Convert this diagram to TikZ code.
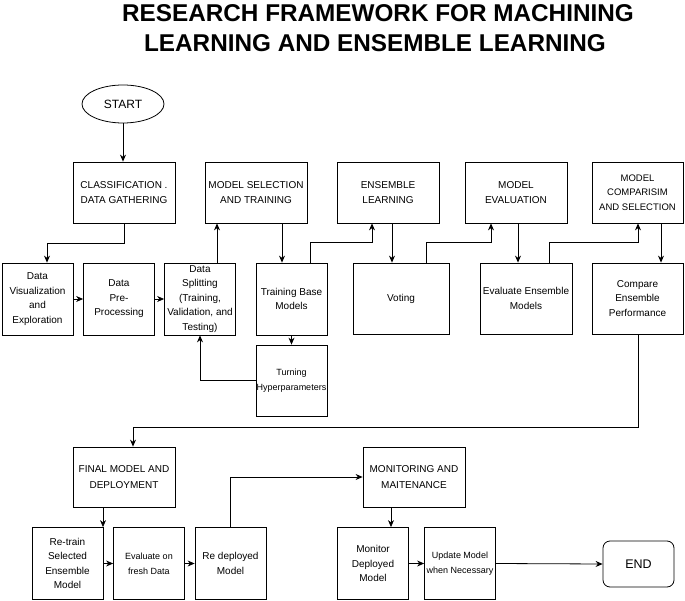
\documentclass[tikz,border=0pt]{standalone}
\usepackage{fontspec}
\setmainfont{Liberation Sans}
\usetikzlibrary{arrows.meta,shapes.geometric,calc}
\begin{document}
\begin{tikzpicture}[x=1pt,y=-1pt,
  line width=0.8pt,
  >={Stealth[length=7pt,width=6pt]},
  box/.style={draw,rectangle,inner sep=0pt,align=center,font=\fontsize{10}{14.5}\selectfont},
  capbox/.style={box,font=\fontsize{10}{15.5}\selectfont},
  smallbox/.style={box,font=\fontsize{9}{15}\selectfont},
  titletext/.style={font=\bfseries\fontsize{24.3}{32}\selectfont,anchor=base},
  wide/.style={minimum width=102pt,minimum height=61pt},
  sq/.style={minimum width=71pt,minimum height=72pt},
  conn/.style={->}
]
\useasboundingbox (0,0) rectangle (685,601);
% title
\node[titletext] (title1) at (378,21.5) {RESEARCH FRAMEWORK FOR MACHINING};
\node[titletext] (title2) at (375,51.5) {LEARNING AND ENSEMBLE LEARNING};
% start
\node[draw,ellipse,minimum width=82pt,minimum height=38pt,inner sep=0pt,font=\fontsize{12}{14}\selectfont] (start) at (123,104) {START};
% top row
\node[capbox,wide] (cls) at (124,192.5) {CLASSIFICATION .\\DATA GATHERING};
\node[capbox,wide] (msel) at (256,192.5) {MODEL SELECTION\\AND TRAINING};
\node[capbox,wide] (ens) at (388,192.5) {ENSEMBLE\\LEARNING};
\node[capbox,wide] (meval) at (516,192.5) {MODEL\\EVALUATION};
\node[capbox,minimum width=91pt,minimum height=61pt,font=\fontsize{9.5}{14.5}\selectfont] (mcomp) at (637.5,192.5) {MODEL\\COMPARISIM\\AND SELECTION};
% second row
\node[box,sq] (dvis) at (37.5,299) {Data\\Visualization\\and\\Exploration};
\node[box,sq] (prep) at (119,299) {Data\\Pre-\\Processing};
\node[box,sq] (split) at (200,299) {Data\\Splitting\\(Training,\\Validation, and\\Testing)};
\node[box,sq] (train) at (291.5,299) {Training Base\\Models};
\node[box,minimum width=96pt,minimum height=71pt] (vote) at (401,298.5) {Voting};
\node[box,minimum width=92pt,minimum height=71pt] (evens) at (526,298.5) {Evaluate Ensemble\\Models};
\node[box,minimum width=91pt,minimum height=71pt] (comp) at (637.5,298.5) {Compare\\Ensemble\\Performance};
\node[smallbox,minimum width=71pt,minimum height=71pt] (tune) at (291.5,380.5) {Turning\\Hyperparameters};
% bottom
\node[capbox,minimum width=102pt,minimum height=60pt] (final) at (124,477) {FINAL MODEL AND\\DEPLOYMENT};
\node[box,sq] (retrain) at (67.5,563.5) {Re-train\\Selected\\Ensemble\\Model};
\node[smallbox,sq] (evfresh) at (149,563.5) {Evaluate on\\fresh Data};
\node[box,sq] (redep) at (230.5,563.5) {Re deployed\\Model};
\node[capbox,minimum width=102pt,minimum height=60pt] (mon) at (414,477) {MONITORING AND\\MAITENANCE};
\node[box,sq] (mdep) at (373,563.5) {Monitor\\Deployed\\Model};
\node[smallbox,sq] (upd) at (460,563.5) {Update Model\\when Necessary};
\node[draw,rounded corners=7pt,minimum width=71pt,minimum height=46pt,inner sep=0pt,font=\fontsize{12.5}{14}\selectfont] (end) at (638.5,564) {END};
% connectors
\draw[conn] (start.south) -- (start.south |- cls.north);
\draw[conn] (cls.south) -- ++(0,20) -| ([xshift=9.5pt]dvis.north);
\draw[conn] (dvis.east) -- (prep.west);
\draw[conn] (prep.east) -- (split.west);
\draw[conn] ([xshift=17pt]split.north) -- ([xshift=17pt]split.north |- msel.south);
\draw[conn] ([xshift=26pt]msel.south) -- ([xshift=26pt]msel.south |- train.north);
\draw[conn] ([xshift=18.5pt]train.north) -- ++(0,-20) -| ([xshift=-16pt]ens.south);
\draw[conn] ([xshift=4pt]ens.south) -- ([xshift=4pt]ens.south |- vote.north);
\draw[conn] ([xshift=25pt]vote.north) -- ++(0,-20) -| ([xshift=-25pt]meval.south);
\draw[conn] ([xshift=2pt]meval.south) -- ([xshift=2pt]meval.south |- evens.north);
\draw[conn] ([xshift=23pt]evens.north) -- ++(0,-20) -| ([xshift=0.5pt]mcomp.south);
\draw[conn] ([xshift=23.5pt]mcomp.south) -- ([xshift=23.5pt]mcomp.south |- comp.north);
\draw[conn] ([xshift=0.5pt]comp.south) -- ++(0,93) -| ([xshift=9pt]final.north);
\draw[conn] (train.south) -- (tune.north);
\draw[conn] (tune.west) -| (split.south);
\draw[conn] ([xshift=-21pt]final.south) -- ([xshift=-21pt]final.south |- retrain.north);
\draw[conn] (retrain.east) -- (evfresh.west);
\draw[conn] (evfresh.east) -- (redep.west);
\draw[conn] (redep.north) |- (mon.west);
\draw[conn] ([xshift=-23pt]mon.south) -- ([xshift=-23pt]mon.south |- mdep.north);
\draw[conn] (mdep.east) -- (upd.west);
\draw[conn] (upd.east) -- (end.west);
\end{tikzpicture}
\end{document}
